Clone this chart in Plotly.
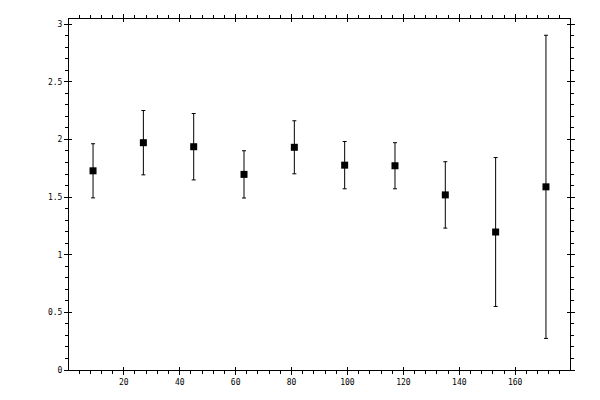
import plotly.graph_objects as go

x_vals = [9, 27, 45, 63, 81, 99, 117, 135, 153, 171]
y_vals = [1.728, 1.972, 1.937, 1.697, 1.932, 1.777, 1.772, 1.519, 1.197, 1.589]
y_err = [0.235, 0.279, 0.288, 0.205, 0.230, 0.205, 0.200, 0.288, 0.646, 1.315]

x_ticks = [20, 40, 60, 80, 100, 120, 140, 160]
y_ticks = [0, 0.5, 1, 1.5, 2, 2.5, 3]
y_tick_text = ["0", "0.5", "1", "1.5", "2", "2.5", "3"]

XR = [0.4, 179.6]
YR = [0, 3.045]
FONT = dict(family="DejaVu Sans Mono", size=8, color="black")

fig = go.Figure()
fig.add_trace(go.Scatter(
    x=x_vals, y=y_vals, mode="markers",
    marker=dict(symbol="square", size=7, color="black"),
    error_y=dict(type="data", array=y_err, visible=True, color="black",
                 thickness=1, width=2),
    showlegend=False, xaxis="x", yaxis="y",
))
# invisible trace to anchor overlay axes
fig.add_trace(go.Scatter(x=[None], y=[None], xaxis="x2", yaxis="y2",
                         showlegend=False, hoverinfo="skip"))

common_axis = dict(showgrid=False, zeroline=False, showline=True,
                   linecolor="black", linewidth=1)

fig.update_layout(
    width=600, height=400,
    margin=dict(l=69, r=30, t=19, b=30),
    paper_bgcolor="white", plot_bgcolor="white",
    font=FONT,
    xaxis=dict(range=XR, tickvals=x_ticks, ticks="outside", ticklen=4,
               tickwidth=1, tickcolor="black", mirror="allticks",
               tickfont=FONT,
               minor=dict(dtick=4, tick0=0, ticks="outside", ticklen=3,
                          tickwidth=1, tickcolor="black"),
               **common_axis),
    yaxis=dict(range=YR, tickvals=y_ticks, ticktext=y_tick_text,
               ticks="outside", ticklen=4, tickwidth=1, tickcolor="black",
               mirror="allticks", tickfont=FONT,
               minor=dict(dtick=0.1, tick0=0, ticks="outside", ticklen=3,
                          tickwidth=1, tickcolor="black"),
               **common_axis),
    xaxis2=dict(range=XR, tickvals=x_ticks, ticks="inside", ticklen=3,
                tickwidth=1, tickcolor="black", mirror="allticks",
                showticklabels=False, overlaying="x", anchor="y2",
                **common_axis),
    yaxis2=dict(range=YR, tickvals=y_ticks, ticks="inside", ticklen=3,
                tickwidth=1, tickcolor="black", mirror="allticks",
                showticklabels=False, overlaying="y", anchor="x2",
                **common_axis),
)

fig.write_html("out.html", config={"displayModeBar": False},
               post_script="document.body.style.margin='0px';")
